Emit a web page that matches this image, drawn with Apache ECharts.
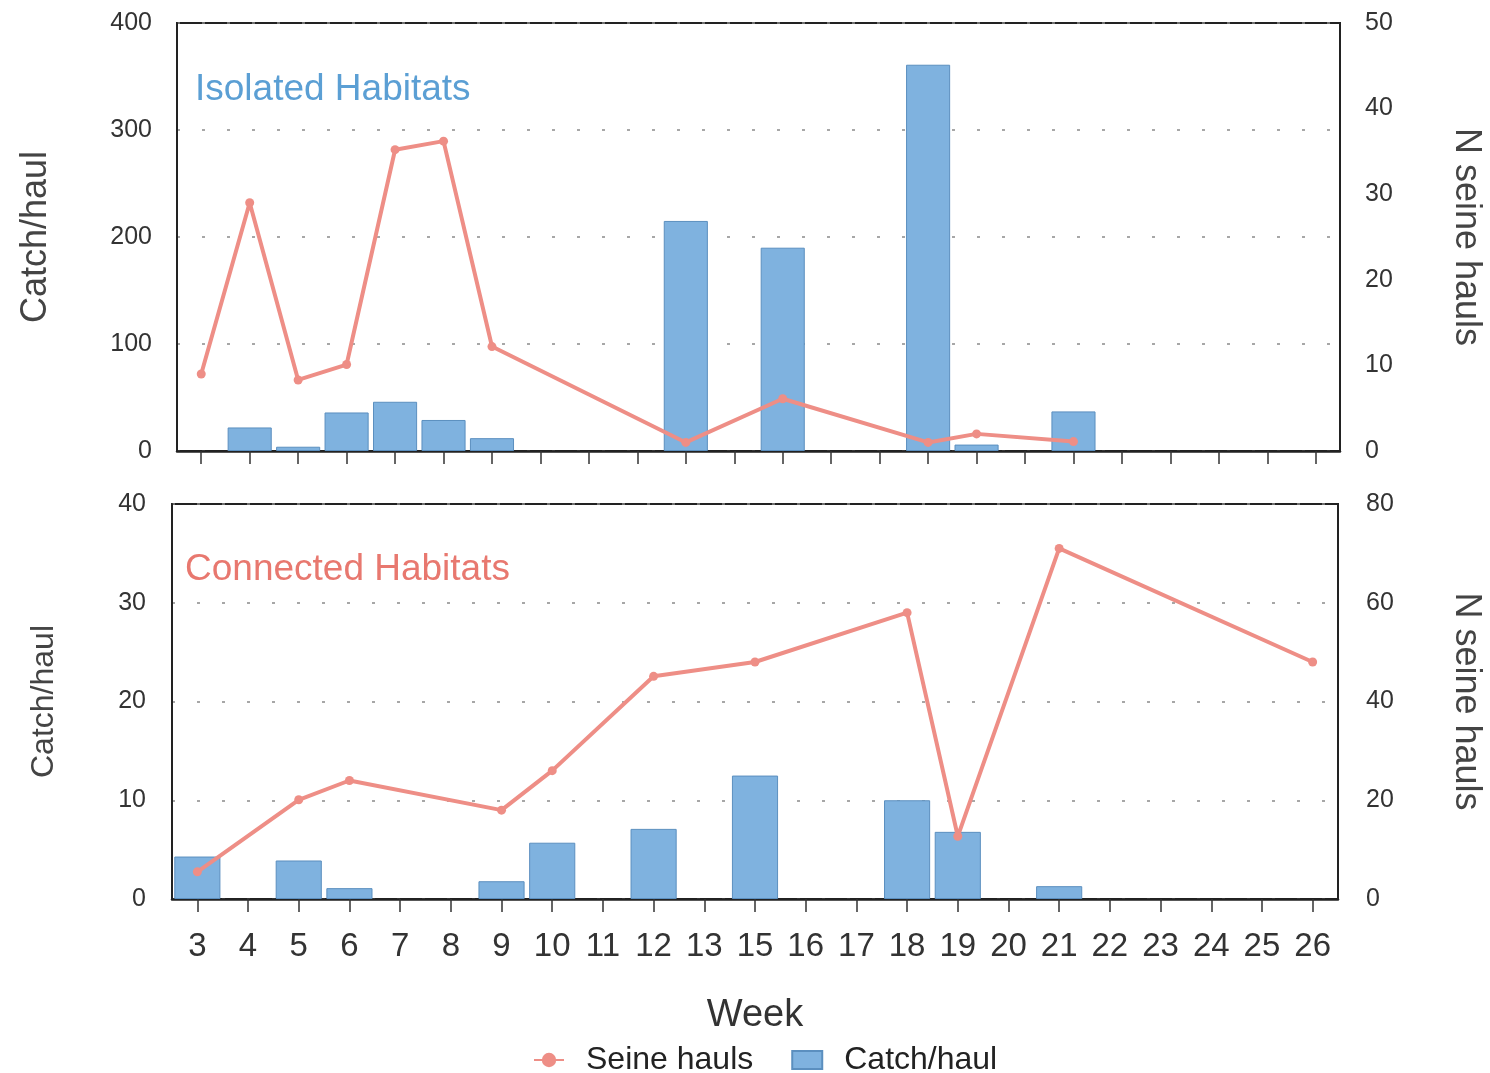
<!DOCTYPE html>
<html>
<head>
<meta charset="utf-8">
<script src="https://cdn.jsdelivr.net/npm/echarts@6/dist/echarts.min.js"></script>
<style>
html,body{margin:0;padding:0;background:#fff;}
#chart{width:1490px;height:1073px;}
</style>
</head>
<body>
<div id="chart"></div>
<script>
// Top panel (Isolated Habitats): weeks 3..26
var weeksTop = ['3','4','5','6','7','8','9','10','11','12','13','14','15','16','17','18','19','20','21','22','23','24','25','26'];
var catchTop = [null,22,4,36,46,29,12,null,null,null,215,null,190,null,null,361,6,null,37,null,null,null,null,null];
var seineTop = [9,29,8.3,10.1,35.2,36.2,12.2,null,null,null,1.0,null,6.1,null,null,1.0,2.0,null,1.1,null,null,null,null,null];

// Bottom panel (Connected Habitats): week labels as printed
var weeksBottom = ['3','4','5','6','7','8','9','10','11','12','13','15','16','17','18','19','20','21','22','23','24','25','26'];
var catchBottom = [4.3,null,3.9,1.1,null,null,1.8,5.7,null,7.1,null,12.5,null,null,10.0,6.8,null,1.3,null,null,null,null,null];
var seineBottom = [5.5,null,20.1,24.0,null,null,18.0,26.0,null,45.1,null,48.0,null,null,58.0,12.7,null,71.0,null,null,null,null,48.0];

var titleTop = 'Isolated Habitats';
var titleBottom = 'Connected Habitats';

var FONT = 'Liberation Sans, Arial, sans-serif';
var barColor = '#7fb2df';
var barBorder = '#5b8fbf';
var lineColor = '#ee8e86';
var gridLine = {show:true, lineStyle:{color:'#8a8a8a', width:1.5, type:[3,22]}};

var chart = echarts.init(document.getElementById('chart'));
chart.setOption({
  backgroundColor:'#ffffff',
  textStyle:{fontFamily:FONT},
  title:[
    {text:titleTop, left:190, top:66, textStyle:{color:'#5b9fd4', fontSize:37, fontWeight:'normal', fontFamily:FONT}},
    {text:titleBottom, left:180, top:546, textStyle:{color:'#e8786f', fontSize:37, fontWeight:'normal', fontFamily:FONT}}
  ],
  legend:{
    top:1039, left:528,
    itemWidth:30, itemHeight:18, itemGap:38,
    textStyle:{fontSize:32, color:'#222', fontFamily:FONT, padding:[0,0,0,17]},
    data:[{name:'Seine hauls'},{name:'Catch/haul', icon:'rect'}]
  },
  grid:[
    {left:177, right:150, top:23, height:428, show:true, borderColor:'#222', borderWidth:2, backgroundColor:'transparent', containLabel:false, outerBoundsMode:'none'},
    {left:172, right:152, top:504, height:395, show:true, borderColor:'#222', borderWidth:2, backgroundColor:'transparent', containLabel:false, outerBoundsMode:'none'}
  ],
  xAxis:[
    {type:'category', gridIndex:0, data:weeksTop, boundaryGap:true,
     axisLine:{lineStyle:{color:'#222', width:2.5}},
     axisTick:{show:true, alignWithLabel:true, interval:0, length:13, lineStyle:{color:'#333', width:1.5}},
     axisLabel:{show:false, interval:0}},
    {type:'category', gridIndex:1, data:weeksBottom, boundaryGap:true,
     name:'Week', nameLocation:'middle', nameGap:98,
     nameTextStyle:{fontSize:38, color:'#333', fontFamily:FONT},
     axisLine:{lineStyle:{color:'#222', width:2.5}},
     axisTick:{show:true, alignWithLabel:true, interval:0, length:13, lineStyle:{color:'#333', width:1.5}},
     axisLabel:{interval:0, fontSize:33, color:'#333', margin:31, fontFamily:FONT}}
  ],
  yAxis:[
    {type:'value', gridIndex:0, min:0, max:400, interval:100, position:'left',
     name:'Catch/haul', nameLocation:'middle', nameGap:123,
     nameTextStyle:{fontSize:36, color:'#444', fontFamily:FONT},
     axisLine:{show:true, lineStyle:{color:'#222', width:2}}, axisTick:{show:false},
     axisLabel:{fontSize:25, color:'#333', margin:25, fontFamily:FONT},
     splitLine:gridLine},
    {type:'value', gridIndex:0, min:0, max:50, interval:10, position:'right',
     name:'N seine hauls', nameLocation:'middle', nameGap:108, nameRotate:-90,
     nameTextStyle:{fontSize:36, color:'#444', fontFamily:FONT},
     axisLine:{show:true, lineStyle:{color:'#222', width:2}}, axisTick:{show:false},
     axisLabel:{fontSize:25, color:'#333', margin:25, fontFamily:FONT},
     splitLine:{show:false}},
    {type:'value', gridIndex:1, min:0, max:40, interval:10, position:'left',
     name:'Catch/haul', nameLocation:'middle', nameGap:112,
     nameTextStyle:{fontSize:32, color:'#444', fontFamily:FONT},
     axisLine:{show:true, lineStyle:{color:'#222', width:2}}, axisTick:{show:false},
     axisLabel:{fontSize:25, color:'#333', margin:26, fontFamily:FONT},
     splitLine:gridLine},
    {type:'value', gridIndex:1, min:0, max:80, interval:20, position:'right',
     name:'N seine hauls', nameLocation:'middle', nameGap:110, nameRotate:-90,
     nameTextStyle:{fontSize:36, color:'#444', fontFamily:FONT},
     axisLine:{show:true, lineStyle:{color:'#222', width:2}}, axisTick:{show:false},
     axisLabel:{fontSize:25, color:'#333', margin:28, fontFamily:FONT},
     splitLine:{show:false}}
  ],
  series:[
    {name:'Catch/haul', type:'bar', xAxisIndex:0, yAxisIndex:0, data:catchTop, barWidth:'91%',
     itemStyle:{color:barColor, borderColor:barBorder, borderWidth:1}, z:2},
    {name:'Catch/haul', type:'bar', xAxisIndex:1, yAxisIndex:2, data:catchBottom, barWidth:'91%',
     itemStyle:{color:barColor, borderColor:barBorder, borderWidth:1}, z:2},
    {name:'Seine hauls', type:'line', xAxisIndex:0, yAxisIndex:1, data:seineTop, connectNulls:true,
     symbol:'circle', symbolSize:9, lineStyle:{color:lineColor, width:4}, itemStyle:{color:lineColor}, z:3},
    {name:'Seine hauls', type:'line', xAxisIndex:1, yAxisIndex:3, data:seineBottom, connectNulls:true,
     symbol:'circle', symbolSize:9, lineStyle:{color:lineColor, width:4}, itemStyle:{color:lineColor}, z:3}
  ]
});
</script>
</body>
</html>
